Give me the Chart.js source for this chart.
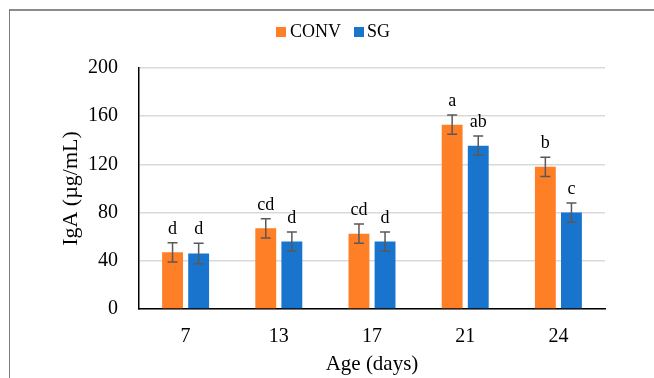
<!DOCTYPE html>
<html>
<head>
<meta charset="utf-8">
<script src="https://cdn.jsdelivr.net/npm/chart.js@4.4.1/dist/chart.umd.min.js"></script>
<style>
  html, body { margin: 0; padding: 0; background: #fff; }
  canvas { display: block; }
</style>
</head>
<body>
<canvas id="igaChart" width="654" height="378"></canvas>
<script>
// data
const AGES = ['7', '13', '17', '21', '24'];
const CONV = [47, 67, 62.5, 153, 118];
const SG = [46, 56, 56, 135.5, 80];
const CONV_ERR = [8, 8, 8, 8, 8];
const SG_ERR = [8.5, 8, 8, 8, 8];
const CONV_LETTERS = ['d', 'cd', 'cd', 'a', 'b'];
const SG_LETTERS = ['d', 'd', 'd', 'ab', 'c'];
const Y_TICKS = [0, 40, 80, 120, 160, 200];

const SERIF = "'Liberation Serif', 'Times New Roman', serif";
const COLORS = { conv: '#FF7F27', sg: '#1874CD' };

const ERRORS = [CONV_ERR, SG_ERR];
const LETTERS = [CONV_LETTERS, SG_LETTERS];

// error bars + significance letters
const errorBars = {
  id: 'errorBars',
  afterDatasetsDraw(chart) {
    const { ctx, scales: { y } } = chart;
    ctx.save();
    chart.data.datasets.forEach((ds, di) => {
      const meta = chart.getDatasetMeta(di);
      meta.data.forEach((bar, i) => {
        const v = ds.data[i], e = ERRORS[di][i];
        const yTop = y.getPixelForValue(v + e);
        const yBot = y.getPixelForValue(v - e);
        ctx.strokeStyle = '#595959';
        ctx.lineWidth = 1.5;
        ctx.beginPath();
        ctx.moveTo(bar.x, yTop); ctx.lineTo(bar.x, yBot);
        ctx.moveTo(bar.x - 5, yTop); ctx.lineTo(bar.x + 5, yTop);
        ctx.moveTo(bar.x - 5, yBot); ctx.lineTo(bar.x + 5, yBot);
        ctx.stroke();
        ctx.fillStyle = '#000';
        ctx.font = '18px ' + SERIF;
        ctx.textAlign = 'center';
        ctx.textBaseline = 'alphabetic';
        ctx.fillText(LETTERS[di][i], bar.x, yTop - 9);
      });
    });
    ctx.restore();
  }
};

// outer frame (left + top only) and the legend
const frameLegend = {
  id: 'frameLegend',
  afterDraw(chart) {
    const { ctx } = chart;
    ctx.save();
    ctx.strokeStyle = '#808080';
    ctx.lineWidth = 1;
    ctx.beginPath();
    ctx.moveTo(9.5, 378); ctx.lineTo(9.5, 10);
    ctx.stroke();
    ctx.strokeStyle = '#666';
    ctx.lineWidth = 1.5;
    ctx.beginPath();
    ctx.moveTo(9, 10); ctx.lineTo(654, 10);
    ctx.stroke();

    ctx.font = '18px ' + SERIF;
    ctx.textBaseline = 'middle';
    ctx.textAlign = 'left';
    ctx.fillStyle = COLORS.conv;
    ctx.fillRect(276, 27, 10, 10);
    ctx.fillStyle = '#000';
    ctx.fillText(chart.data.datasets[0].label, 290, 32.5);
    ctx.fillStyle = COLORS.sg;
    ctx.fillRect(354, 27, 10, 10);
    ctx.fillStyle = '#000';
    ctx.fillText(chart.data.datasets[1].label, 367, 32.5);
    ctx.restore();
  }
};

new Chart(document.getElementById('igaChart'), {
  type: 'bar',
  data: {
    labels: AGES,
    datasets: [
      { label: 'CONV', data: CONV, backgroundColor: COLORS.conv },
      { label: 'SG', data: SG, backgroundColor: COLORS.sg },
    ]
  },
  options: {
    responsive: false,
    animation: false,
    categoryPercentage: 0.56,
    barPercentage: 0.8,
    layout: { padding: { left: 40, right: 49, top: 68, bottom: 0 } },
    plugins: { legend: { display: false }, tooltip: { enabled: false } },
    scales: {
      x: {
        grid: { display: false, drawTicks: false },
        border: { color: '#000', width: 1.5 },
        ticks: { color: '#000', font: { family: SERIF, size: 20 }, padding: 16 },
        title: { display: true, text: 'Age (days)', color: '#000',
                 font: { family: SERIF, size: 21 }, padding: { top: 0, bottom: 1 } },
        afterFit: s => { s.height = 69; },
      },
      y: {
        min: 0, max: 200,
        afterBuildTicks: s => { s.ticks = Y_TICKS.map(v => ({ value: v })); },
        grid: { color: '#d9d9d9', lineWidth: 1.5, drawTicks: false },
        border: { color: '#000', width: 1.5 },
        ticks: { color: '#000', font: { family: SERIF, size: 20 }, padding: 21 },
        title: { display: true, text: 'IgA (µg/mL)', color: '#000',
                 font: { family: SERIF, size: 22 }, padding: { top: 18, bottom: 0 } },
        afterFit: s => { s.width = 99; },
      }
    }
  },
  plugins: [errorBars, frameLegend]
});
</script>
</body>
</html>
